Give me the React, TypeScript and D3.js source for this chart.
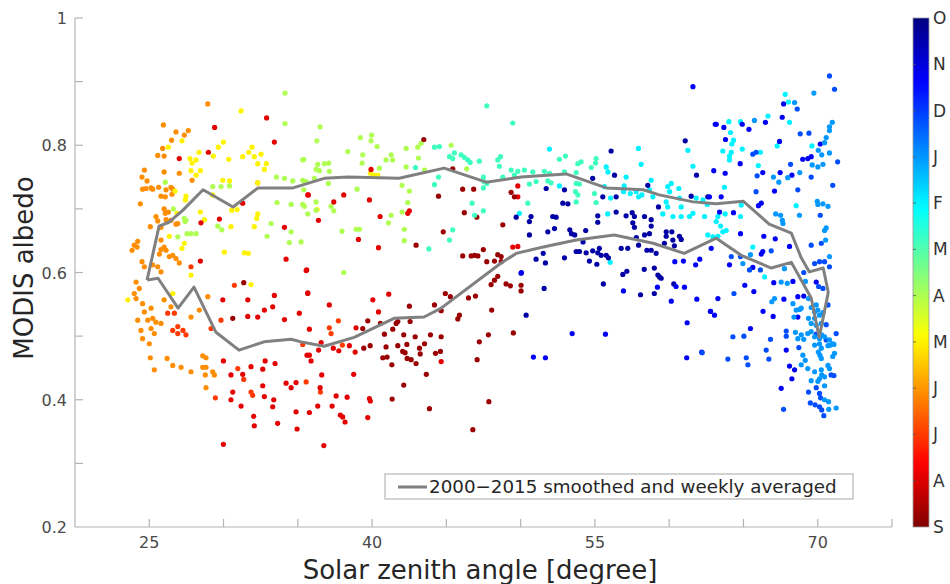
import React from 'react'
import * as d3 from 'd3'

// colorbar labels, top (O) to bottom (S)
const monthLabels = ['O', 'N', 'D', 'J', 'F', 'M', 'A', 'M', 'J', 'J', 'A', 'S']
const xTicks = [25, 30, 35, 40, 45, 50, 55, 60, 65, 70, 75]
const xLabels = [25, 40, 55, 70]
const yTicks = [0.3, 0.4, 0.5, 0.6, 0.7, 0.8, 0.9, 1]
const yLabels = [0.2, 0.4, 0.6, 0.8, 1]

// [solar zenith angle, albedo] per month group
const octPts = [[61.08,0.807],[56.09,0.791],[56.32,0.753],[61.84,0.753],[54.85,0.748],[51.72,0.732],[52.95,0.73],[55.53,0.719],[56.43,0.719],[58.56,0.737],[59.28,0.703],[61.48,0.72],[62.6,0.719],[50.7,0.688],[50.59,0.68],[52.16,0.688],[52.39,0.687],[52.84,0.709],[53.18,0.708],[55.19,0.689],[55.19,0.679],[56.43,0.695],[57.1,0.689],[57.51,0.694],[57.66,0.688],[57.55,0.678],[57.66,0.671],[58.34,0.688],[58.79,0.683],[58.79,0.673],[58.67,0.661],[58.34,0.659],[57.79,0.655],[59.8,0.664],[60.18,0.664],[59.8,0.657],[60.25,0.651],[60.69,0.657],[60.81,0.652],[59.68,0.646],[60.35,0.642],[51.83,0.664],[52.28,0.669],[53.31,0.667],[53.42,0.661],[53.64,0.659],[54.38,0.666],[54.2,0.648],[50.59,0.659],[51.52,0.63],[51.04,0.621],[53.74,0.633],[53.96,0.633],[54.41,0.631],[54.85,0.634],[55.19,0.631],[55.42,0.627],[55.76,0.627],[55.3,0.638],[56.77,0.638],[57.21,0.638],[57.94,0.643],[58.5,0.635],[58.79,0.635],[59.12,0.63],[49.7,0.687],[51.67,0.615],[52.95,0.623],[54.63,0.618],[55.13,0.613],[55.91,0.623],[51.58,0.575],[55.57,0.582],[56.88,0.597],[57.15,0.602],[58.32,0.605],[59.0,0.607],[59.24,0.596],[59.35,0.593],[59.46,0.591],[60.31,0.582],[58.07,0.565],[59.0,0.567],[50.37,0.533],[50.03,0.599]]
const novPts = [[50.05,0.6],[60.46,0.578],[61.03,0.577],[59.21,0.577],[60.14,0.555],[61.86,0.558],[60.38,0.617],[60.96,0.618],[61.78,0.612],[62.06,0.621],[62.78,0.539],[63.05,0.533],[61.21,0.521],[53.47,0.504],[55.71,0.503],[50.86,0.467],[51.67,0.466],[61.18,0.466],[62.19,0.475],[56.92,0.571],[61.6,0.892],[63.1,0.833],[67.7,0.865],[67.61,0.844],[66.48,0.836],[63.17,0.833],[63.68,0.828],[64.92,0.833],[65.37,0.825],[63.79,0.809],[67.43,0.806],[70.17,0.802],[68.99,0.778],[69.33,0.779],[69.56,0.782],[64.78,0.771],[63.0,0.76],[63.77,0.756],[66.3,0.757],[67.47,0.757],[68.26,0.753],[67.09,0.728],[62.71,0.719],[63.5,0.719],[66.2,0.709],[66.01,0.705],[63.39,0.695],[64.33,0.694],[64.8,0.661],[66.37,0.657],[67.14,0.653],[62.83,0.638],[66.3,0.633],[66.2,0.629],[68.1,0.641],[64.06,0.612],[65.63,0.608],[67.04,0.584],[68.33,0.586],[69.9,0.585],[65.09,0.58],[63.28,0.559],[65.7,0.57],[67.72,0.558],[68.66,0.562],[69.06,0.563],[68.66,0.53],[62.78,0.539],[66.32,0.539],[67.0,0.531],[65.47,0.512],[67.88,0.478],[68.1,0.453],[68.44,0.447],[68.26,0.433],[67.54,0.418]]
const decPts = [[70.79,0.909],[71.13,0.888],[68.62,0.857],[68.82,0.818],[69.41,0.819],[65.63,0.786],[65.85,0.789],[68.17,0.77],[71.34,0.774],[65.92,0.752],[69.56,0.75],[65.85,0.727],[68.66,0.73],[71.01,0.737],[70.17,0.69],[66.87,0.634],[69.56,0.643],[70.24,0.646],[64.18,0.625],[64.8,0.625],[65.41,0.604],[66.14,0.604],[69.06,0.6],[70.06,0.578],[70.35,0.575],[69.79,0.614],[70.12,0.617],[70.46,0.617],[70.79,0.609],[64.36,0.567],[70.69,0.549],[70.57,0.518],[64.29,0.499],[65.03,0.5],[66.82,0.495],[67.88,0.508],[67.88,0.5],[62.22,0.474],[63.95,0.464],[65.19,0.466],[65.3,0.455],[66.53,0.478],[66.71,0.464],[68.73,0.482],[69.9,0.419],[69.38,0.412],[70.12,0.41],[70.19,0.403],[69.5,0.395],[69.82,0.392],[70.12,0.389],[70.27,0.384],[70.41,0.375],[67.7,0.385],[71.24,0.504],[70.9,0.439],[71.09,0.438],[69.9,0.503],[70.57,0.494]]
const janPts = [[69.74,0.882],[68.44,0.867],[65.74,0.839],[70.98,0.836],[70.79,0.829],[70.79,0.823],[70.57,0.812],[70.46,0.804],[70.04,0.792],[70.27,0.785],[70.79,0.788],[70.01,0.766],[70.35,0.77],[67.02,0.75],[67.38,0.742],[67.98,0.749],[68.79,0.757],[69.97,0.712],[70.01,0.707],[70.35,0.708],[70.69,0.704],[67.17,0.692],[67.5,0.69],[67.62,0.682],[67.66,0.677],[68.77,0.69],[70.57,0.67],[70.46,0.666],[70.53,0.651],[70.79,0.625],[65.47,0.628],[69.63,0.769],[64.96,0.614],[67.76,0.606],[67.54,0.585],[67.95,0.583],[69.17,0.586],[67.09,0.559],[66.91,0.554],[68.33,0.551],[68.55,0.541],[68.78,0.542],[68.89,0.544],[68.4,0.53],[69.38,0.559],[69.56,0.545],[69.9,0.549],[69.79,0.538],[70.01,0.541],[70.12,0.533],[70.35,0.537],[69.38,0.528],[69.56,0.52],[69.79,0.528],[69.9,0.517],[70.24,0.52],[68.5,0.506],[68.66,0.496],[68.89,0.502],[69.06,0.495],[69.33,0.504],[69.56,0.507],[69.79,0.499],[70.12,0.496],[70.27,0.502],[70.46,0.499],[70.79,0.494],[71.01,0.488],[69.79,0.486],[70.12,0.488],[70.24,0.481],[70.69,0.485],[70.86,0.486],[71.09,0.487],[69.0,0.47],[69.16,0.462],[68.89,0.455],[69.33,0.449],[70.04,0.475],[70.15,0.47],[70.24,0.465],[71.01,0.468],[71.13,0.473],[70.69,0.454],[70.79,0.449],[69.79,0.444],[70.24,0.447],[70.27,0.439],[70.12,0.433],[70.46,0.436],[69.56,0.43],[70.01,0.429],[70.46,0.422],[70.46,0.4],[70.73,0.397],[70.74,0.385],[71.24,0.387]]
const febPts = [[67.81,0.88],[68.03,0.868],[66.65,0.846],[68.1,0.836],[64.02,0.837],[64.8,0.837],[64.13,0.82],[64.33,0.808],[64.22,0.802],[67.27,0.799],[69.61,0.799],[63.61,0.791],[64.18,0.789],[64.06,0.783],[64.06,0.777],[64.92,0.794],[66.14,0.789],[66.0,0.768],[63.72,0.734],[64.85,0.706],[68.55,0.705],[63.28,0.688],[63.77,0.692],[64.8,0.688],[63.17,0.68],[63.46,0.673],[63.61,0.664],[63.84,0.666],[63.28,0.657],[65.63,0.64],[66.42,0.593],[61.26,0.792],[57.93,0.795],[51.94,0.794],[58.11,0.77],[61.6,0.767],[55.76,0.766],[55.88,0.758],[57.1,0.75],[52.61,0.736],[55.64,0.735],[56.05,0.717],[56.97,0.736],[56.93,0.727],[57.38,0.724],[57.78,0.727],[57.94,0.719],[58.16,0.722],[58.79,0.745],[58.67,0.73],[58.9,0.719],[59.9,0.735],[60.14,0.74],[60.03,0.727],[59.8,0.711],[59.9,0.703],[60.65,0.732],[60.69,0.717],[61.82,0.717],[62.27,0.714],[62.56,0.707],[60.81,0.703],[60.81,0.688],[61.37,0.688],[61.6,0.693],[62.38,0.688],[59.57,0.692],[60.25,0.688],[49.92,0.693],[55.86,0.692],[62.6,0.659],[62.94,0.656],[56.03,0.616]]
const marPts = [[47.72,0.862],[49.47,0.835],[44.2,0.797],[44.53,0.798],[42.92,0.765],[44.47,0.75],[47.49,0.75],[47.53,0.743],[47.49,0.733],[47.72,0.74],[48.8,0.75],[49.36,0.761],[49.58,0.753],[47.22,0.775],[48.46,0.777],[48.64,0.782],[48.57,0.767],[46.73,0.709],[47.49,0.697],[46.9,0.69],[45.43,0.667],[45.21,0.651],[43.82,0.637],[45.54,0.788],[45.21,0.782],[45.43,0.779],[45.99,0.785],[46.21,0.781],[46.44,0.777],[46.6,0.773],[44.2,0.738],[53.02,0.783],[52.61,0.778],[55.08,0.779],[55.04,0.772],[54.07,0.774],[53.85,0.771],[54.75,0.765],[49.81,0.759],[50.25,0.761],[50.82,0.758],[51.6,0.759],[51.94,0.756],[52.95,0.758],[53.74,0.757],[50.59,0.739],[51.04,0.743],[51.83,0.744],[52.05,0.741],[53.74,0.74],[53.96,0.739],[53.69,0.727],[53.85,0.722],[54.97,0.724],[50.48,0.709],[53.74,0.711],[55.08,0.71]]
const aprPts = [[36.5,0.829],[36.28,0.807],[39.97,0.816],[39.93,0.807],[39.21,0.812],[43.07,0.797],[43.3,0.803],[40.34,0.798],[42.29,0.795],[45.32,0.8],[35.4,0.778],[36.34,0.77],[36.79,0.771],[37.08,0.772],[38.36,0.79],[39.37,0.785],[39.33,0.772],[40.94,0.777],[41.28,0.785],[41.39,0.777],[43.12,0.78],[42.29,0.766],[40.49,0.764],[36.23,0.762],[36.45,0.76],[37.12,0.759],[43.53,0.761],[46.37,0.763],[35.33,0.745],[35.56,0.743],[36.12,0.748],[35.4,0.73],[42.02,0.737],[42.51,0.728],[38.99,0.731],[37.06,0.74],[36.23,0.711],[36.23,0.698],[35.44,0.704],[37.24,0.704],[37.42,0.697],[35.67,0.692],[42.4,0.71],[42.02,0.695],[41.28,0.69],[41.1,0.678],[37.97,0.665],[38.92,0.668],[39.15,0.668],[42.17,0.668],[42.17,0.65],[34.14,0.882],[34.14,0.834],[35.33,0.777],[33.56,0.75],[34.1,0.748],[34.66,0.744],[35.44,0.743],[33.6,0.71],[34.55,0.707],[35.33,0.707],[29.61,0.673],[29.88,0.667],[33.2,0.677],[32.93,0.657],[34.55,0.664],[35.22,0.648],[34.43,0.647],[26.08,0.742],[26.62,0.7],[27.36,0.685],[27.47,0.682],[27.41,0.68],[29.27,0.735],[29.83,0.735],[30.4,0.736],[26.92,0.656],[27.54,0.661],[27.81,0.661],[28.15,0.661],[38.09,0.6]]
const mayPts = [[31.18,0.854],[29.99,0.805],[27.2,0.807],[26.28,0.797],[29.65,0.797],[28.35,0.789],[31.92,0.797],[31.7,0.789],[27.74,0.779],[28.15,0.777],[27.88,0.772],[29.31,0.783],[30.35,0.778],[31.29,0.782],[32.07,0.782],[32.52,0.786],[32.3,0.771],[32.88,0.771],[32.75,0.762],[27.81,0.76],[28.44,0.76],[28.15,0.753],[29.95,0.745],[30.4,0.744],[32.3,0.741],[26.73,0.728],[27.47,0.72],[27.43,0.714],[29.27,0.722],[26.87,0.693],[28.44,0.695],[28.71,0.683],[30.55,0.698],[30.91,0.699],[32.3,0.692],[32.23,0.685],[30.5,0.672],[32.07,0.672],[26.35,0.657],[27.36,0.646],[27.2,0.638],[30.05,0.632],[31.4,0.631],[31.67,0.63],[27.81,0.596],[26.58,0.567],[31.85,0.581],[23.55,0.557],[39.88,0.756],[40.11,0.753],[40.38,0.753],[36.3,0.699]]
const junPts = [[28.94,0.865],[25.95,0.832],[26.8,0.821],[27.63,0.823],[27.36,0.816],[26.5,0.808],[25.9,0.795],[25.57,0.784],[26.0,0.783],[24.67,0.761],[26.0,0.758],[27.02,0.756],[24.51,0.75],[24.85,0.744],[27.88,0.745],[24.55,0.731],[24.78,0.732],[25.12,0.733],[25.23,0.731],[25.63,0.734],[26.13,0.73],[26.46,0.734],[26.58,0.731],[25.79,0.72],[26.08,0.719],[26.53,0.723],[24.4,0.708],[26.0,0.7],[26.08,0.693],[26.28,0.695],[25.45,0.688],[25.57,0.681],[26.13,0.683],[26.46,0.682],[26.8,0.676],[26.92,0.677],[25.07,0.672],[25.79,0.671],[24.22,0.649],[23.99,0.643],[23.84,0.635],[24.18,0.64],[25.79,0.651],[26.0,0.64],[25.79,0.636],[25.68,0.629],[26.13,0.635],[26.35,0.625],[26.58,0.627],[26.8,0.622],[27.02,0.615],[24.51,0.617],[24.67,0.609],[25.23,0.612],[25.57,0.609],[25.79,0.601],[24.11,0.585],[24.33,0.575],[23.99,0.567],[24.11,0.559],[24.55,0.551],[25.12,0.544],[24.67,0.538],[26.0,0.557],[26.46,0.546],[28.94,0.562],[24.22,0.525],[24.9,0.525],[25.23,0.528],[25.45,0.522],[25.79,0.52],[24.44,0.509],[25.12,0.512],[25.34,0.504],[24.55,0.496],[25.0,0.488],[27.81,0.53],[28.37,0.541],[32.3,0.741],[25.07,0.466],[25.34,0.447],[26.2,0.465],[26.58,0.454],[27.14,0.451],[27.81,0.444],[28.6,0.469],[28.82,0.466],[28.6,0.451],[28.82,0.451],[28.77,0.439],[29.27,0.444],[29.38,0.439],[28.82,0.419]]
const julPts = [[26.69,0.536],[26.24,0.536],[30.73,0.58],[26.58,0.509],[26.92,0.515],[27.27,0.509],[26.92,0.504],[27.47,0.502],[29.16,0.512],[29.83,0.525],[27.81,0.609],[29.45,0.403],[31.36,0.432],[31.85,0.412],[31.96,0.407],[30.96,0.449],[37.73,0.524],[37.12,0.513],[37.24,0.504],[35.33,0.487],[38.0,0.486],[36.52,0.412],[35.56,0.428]]
const augPts = [[32.9,0.843],[29.4,0.828],[33.42,0.805],[28.98,0.789],[27.02,0.779],[31.29,0.709],[35.71,0.722],[28.48,0.678],[29.72,0.684],[34.1,0.671],[35.6,0.604],[34.21,0.621],[28.44,0.618],[29.95,0.557],[31.63,0.557],[32.3,0.53],[32.75,0.541],[33.42,0.564],[33.31,0.546],[34.1,0.526],[35.1,0.536],[35.67,0.567],[31.63,0.531],[29.99,0.461],[30.5,0.439],[31.29,0.44],[30.62,0.412],[30.5,0.4],[31.18,0.39],[32.64,0.422],[32.75,0.405],[32.03,0.374],[32.07,0.359],[33.31,0.389],[33.38,0.4],[33.64,0.363],[34.21,0.426],[34.55,0.419],[34.88,0.427],[34.88,0.381],[34.95,0.354],[29.99,0.33],[32.64,0.448],[32.8,0.461],[33.47,0.457],[31.85,0.452],[35.62,0.47],[35.89,0.461],[39.93,0.762],[35.67,0.722],[38.09,0.722],[37.42,0.711],[39.82,0.714],[36.39,0.682],[42.4,0.693],[42.51,0.697],[40.54,0.688],[39.08,0.652],[40.43,0.639],[49.47,0.64],[49.81,0.641],[49.81,0.736],[49.81,0.719],[35.56,0.603],[35.67,0.568],[37.12,0.549],[40.05,0.557],[41.12,0.566],[40.43,0.538],[38.92,0.513],[35.78,0.511],[36.57,0.49],[38.47,0.485],[38.86,0.475],[37.76,0.477],[37.39,0.481],[36.4,0.478],[35.78,0.47],[44.65,0.46],[39.82,0.402],[39.88,0.398],[39.71,0.372],[38.76,0.44],[38.32,0.404],[37.58,0.406],[36.61,0.439],[36.5,0.419],[37.31,0.39],[36.34,0.39],[35.78,0.38],[37.86,0.376],[38.02,0.373],[38.18,0.365],[36.75,0.328]]
const sepPts = [[31.36,0.584],[30.62,0.528],[43.48,0.809],[45.43,0.763],[44.47,0.72],[46.1,0.731],[46.84,0.731],[49.36,0.726],[49.58,0.719],[46.21,0.694],[47.05,0.687],[48.8,0.675],[42.96,0.643],[44.79,0.664],[47.49,0.636],[46.1,0.626],[46.67,0.626],[46.9,0.627],[47.12,0.626],[48.46,0.628],[48.69,0.625],[42.51,0.547],[39.71,0.524],[39.37,0.512],[40.56,0.52],[41.39,0.511],[41.62,0.52],[41.73,0.523],[42.56,0.523],[44.2,0.549],[44.93,0.567],[45.27,0.562],[44.65,0.54],[45.88,0.533],[45.77,0.527],[46.49,0.56],[46.96,0.563],[48.05,0.541],[48.01,0.581],[48.24,0.588],[48.46,0.594],[49.02,0.582],[49.31,0.579],[50.03,0.58],[50.03,0.571],[47.72,0.617],[48.24,0.618],[48.69,0.617],[40.83,0.503],[42.13,0.502],[42.9,0.499],[43.93,0.502],[44.65,0.499],[41.73,0.485],[42.34,0.487],[43.53,0.488],[40.94,0.483],[39.87,0.485],[39.44,0.481],[40.72,0.466],[41.01,0.467],[41.33,0.455],[42.06,0.476],[42.22,0.474],[42.36,0.465],[42.63,0.463],[42.96,0.457],[43.19,0.481],[43.24,0.472],[44.27,0.473],[44.6,0.476],[43.65,0.44],[42.13,0.423],[41.35,0.401],[43.86,0.386],[46.78,0.353],[47.86,0.397],[47.07,0.463],[47.22,0.491],[47.83,0.502],[49.51,0.505]]

// colour position on the colorbar (0 = O at top, 11 = S at bottom)
const groups = [
  { pts: junPts, c: 8.1 },
  { pts: mayPts, c: 7.0 },
  { pts: aprPts, c: 6.0 },
  { pts: julPts, c: 9.0 },
  { pts: augPts, c: 9.9 },
  { pts: sepPts, c: 10.7 },
  { pts: marPts, c: 4.8 },
  { pts: febPts, c: 4.0 },
  { pts: octPts, c: 0.4 },
  { pts: novPts, c: 1.3 },
  { pts: decPts, c: 2.2 },
  { pts: janPts, c: 3.0 },
]

// 2000-2015 smoothed and weekly averaged loop
const loopSza = [24.85,25.66,26.33,27.27,28.62,30.64,32.32,34.68,36.77,38.38,41.82,44.85,47.68,50.03,53.06,55.76,58.25,59.33,61.62,63.17,64.98,66.73,68.22,68.89,69.43,70.37,70.71,70.1,69.56,68.22,66.87,64.85,63.17,61.01,58.92,56.3,53.74,51.52,49.7,48.69,44.65,43.5,41.48,38.79,36.77,35.22,34.55,32.73,31.04,29.49,28.01,26.94,25.59,24.85]
const loopAlb = [0.588,0.673,0.679,0.698,0.73,0.703,0.733,0.733,0.748,0.75,0.748,0.764,0.742,0.75,0.755,0.733,0.73,0.722,0.711,0.708,0.712,0.676,0.662,0.623,0.601,0.607,0.569,0.498,0.56,0.616,0.607,0.627,0.654,0.63,0.646,0.659,0.651,0.64,0.63,0.615,0.544,0.53,0.528,0.498,0.484,0.491,0.495,0.491,0.478,0.506,0.577,0.544,0.591,0.588]

const jet = (t: number) => {
  const cl = (v: number) => Math.max(0, Math.min(1, v))
  const r = cl(1.5 - Math.abs(4 * t - 3))
  const g = cl(1.5 - Math.abs(4 * t - 2))
  const b = cl(1.5 - Math.abs(4 * t - 1))
  return d3.rgb(r * 255, g * 255, b * 255).formatHex()
}

const FONT = '"DejaVu Sans", sans-serif'

export default function App() {
  const W = 950, H = 584
  const x = d3.scaleLinear().domain([20, 75]).range([75, 892])
  const y = d3.scaleLinear().domain([0.2, 1]).range([527, 18])
  const cbar = d3.scaleLinear().domain([0, 11]).range([18, 527])

  const line = d3.line<number>()
    .x((_, i) => x(loopSza[i]))
    .y((_, i) => y(loopAlb[i]))

  const stops = d3.range(0, 1.0001, 0.02)

  return (
    <div style={{ position: 'absolute', left: 0, top: 0 }}>
      <svg width={W} height={H} style={{ display: 'block', background: '#fff' }}>
        <defs>
          <linearGradient id="jet" x1="0" y1="0" x2="0" y2="1">
            {stops.map((s, i) => <stop key={i} offset={s} stopColor={jet(s)} />)}
          </linearGradient>
        </defs>

        {/* points */}
        <g>
          {groups.map((gr, gi) => gr.pts.map((p, i) => (
            <circle key={gi + '-' + i} cx={x(p[0])} cy={y(p[1])} r={2.6} fill={jet(gr.c / 11)} />
          )))}
        </g>

        {/* smoothed loop */}
        <path d={line(loopSza) || ''} fill="none" stroke="#808080" strokeWidth={3} strokeLinejoin="round" />

        {/* axes */}
        <g stroke="#b4b4b4" strokeWidth={1.2}>
          <line x1={x(20)} x2={x(20)} y1={y(1)} y2={y(0.2)} />
          <line x1={x(20)} x2={x(75)} y1={y(0.2)} y2={y(0.2)} />
          {xTicks.map(t => <line key={t} x1={x(t)} x2={x(t)} y1={y(0.2)} y2={y(0.2) - 8} />)}
          {yTicks.map(t => <line key={t} x1={x(20)} x2={x(20) + 8} y1={y(t)} y2={y(t)} />)}
        </g>
        <g fontFamily={FONT} fontSize={16} fill="#4a4a4a">
          {xLabels.map(t => (
            <text key={t} x={x(t)} y={y(0.2) + 21} textAnchor="middle">{t}</text>
          ))}
          {yLabels.map(t => (
            <text key={t} x={x(20) - 8} y={y(t) + 6} textAnchor="end">{t}</text>
          ))}
        </g>
        <text x={480} y={579} textAnchor="middle" fontFamily={FONT} fontSize={26} fill="#262626">Solar zenith angle [degree]</text>
        <text transform="translate(33,268) rotate(-90)" textAnchor="middle" fontFamily={FONT} fontSize={26} fill="#262626">MODIS albedo</text>

        {/* legend */}
        <rect x={385} y={474} width={468} height={25} fill="#fff" stroke="#a8a8a8" strokeWidth={1} />
        <line x1={398} x2={427} y1={487} y2={487} stroke="#808080" strokeWidth={3} />
        <text x={429} y={493} fontFamily={FONT} fontSize={18.3} fill="#262626">2000−2015 smoothed and weekly averaged</text>

        {/* colorbar */}
        <rect x={913} y={18} width={16} height={509} fill="url(#jet)" stroke="#9a9a9a" strokeWidth={0.8} />
        <g stroke="#555" strokeWidth={0.8}>
          {monthLabels.map((_, i) => i > 0 && i < 11 ? (
            <line key={i} x1={913} x2={916} y1={cbar(i)} y2={cbar(i)} />
          ) : null)}
        </g>
        <g fontFamily={FONT} fontSize={17} fill="#333">
          {monthLabels.map((m, i) => (
            <text key={i} x={933} y={cbar(i) + 6}>{m}</text>
          ))}
        </g>
      </svg>
    </div>
  )
}
